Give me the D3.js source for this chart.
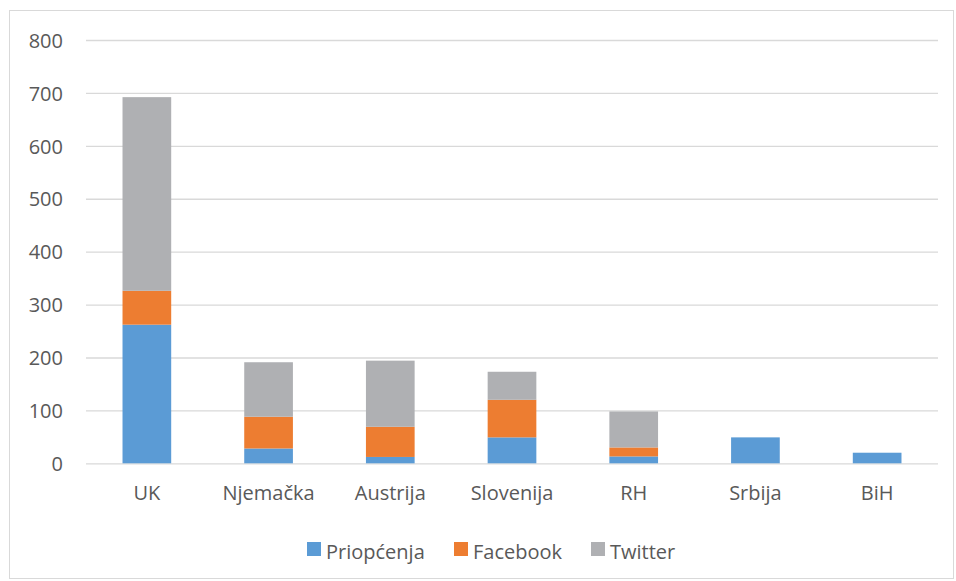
<!DOCTYPE html>
<html><head><meta charset="utf-8">
<script src="https://cdn.jsdelivr.net/npm/d3@7"></script>
<style>body{margin:0;background:#fff}text{font-family:"Open Sans",sans-serif}</style>
</head><body><svg id="c" width="956" height="581"></svg>
<script>
const categories = ["UK","Njemačka","Austrija","Slovenija","RH","Srbija","BiH"];
const seriesNames = ["Priopćenja","Facebook","Twitter"];
const priopcenja = [262,28,12,49,13,49,20];
const facebook = [64,60,57,71,17,0,0];
const twitter = [366,103,125,53,68,0,0];
const yTicks = [0,100,200,300,400,500,600,700,800];
const colors = ["#5b9bd5","#ed7d31","#afb0b3"];

const svg = d3.select("#c");
svg.append("rect").attr("x",9.5).attr("y",10.5).attr("width",944).attr("height",568)
  .attr("fill","#fff").attr("stroke","#d9d9d9");

const L=86,R=938,T=40,B=463.3;
const x = d3.scaleBand().domain(categories).range([L,R]).padding(0);
const y = d3.scaleLinear().domain([0,800]).range([B,T]);

const yAxis = d3.axisLeft(y).tickValues(yTicks).tickSize(-(R-L)).tickPadding(23);
const gy = svg.append("g").attr("transform",`translate(${L},0)`).call(yAxis);
gy.select(".domain").remove();
gy.selectAll(".tick line").attr("stroke","#d9d9d9").attr("stroke-width",1.3);
gy.selectAll(".tick text").attr("fill","#595959").style("font-size","20px").attr("dy","0.36em");

const data = categories.map((c,i)=>({cat:c,"Priopćenja":priopcenja[i],"Facebook":facebook[i],"Twitter":twitter[i]}));
const stack = d3.stack().keys(seriesNames)(data);
const bw = x.bandwidth()*0.4;
stack.forEach((s,si)=>{
  svg.append("g").attr("fill",colors[si]).selectAll("rect").data(s).join("rect")
    .attr("x",d=>x(d.data.cat)+(x.bandwidth()-bw)/2)
    .attr("width",bw)
    .attr("y",d=>y(d[1]))
    .attr("height",d=>Math.max(0,y(d[0])-y(d[1])));
});

const xAxis = d3.axisBottom(x).tickSize(0).tickPadding(23);
const gx = svg.append("g").attr("transform",`translate(0,${B})`).call(xAxis);
gx.select(".domain").remove();
gx.selectAll(".tick text").attr("fill","#595959").style("font-size","20px");

const legX=[307,454,591];
const lg = svg.append("g");
seriesNames.forEach((n,i)=>{
  lg.append("rect").attr("x",legX[i]).attr("y",542).attr("width",14).attr("height",14).attr("fill",colors[i]);
  lg.append("text").attr("x",legX[i]+19).attr("y",559).attr("fill","#595959")
    .style("font-size","20px").text(n);
});
</script></body></html>
